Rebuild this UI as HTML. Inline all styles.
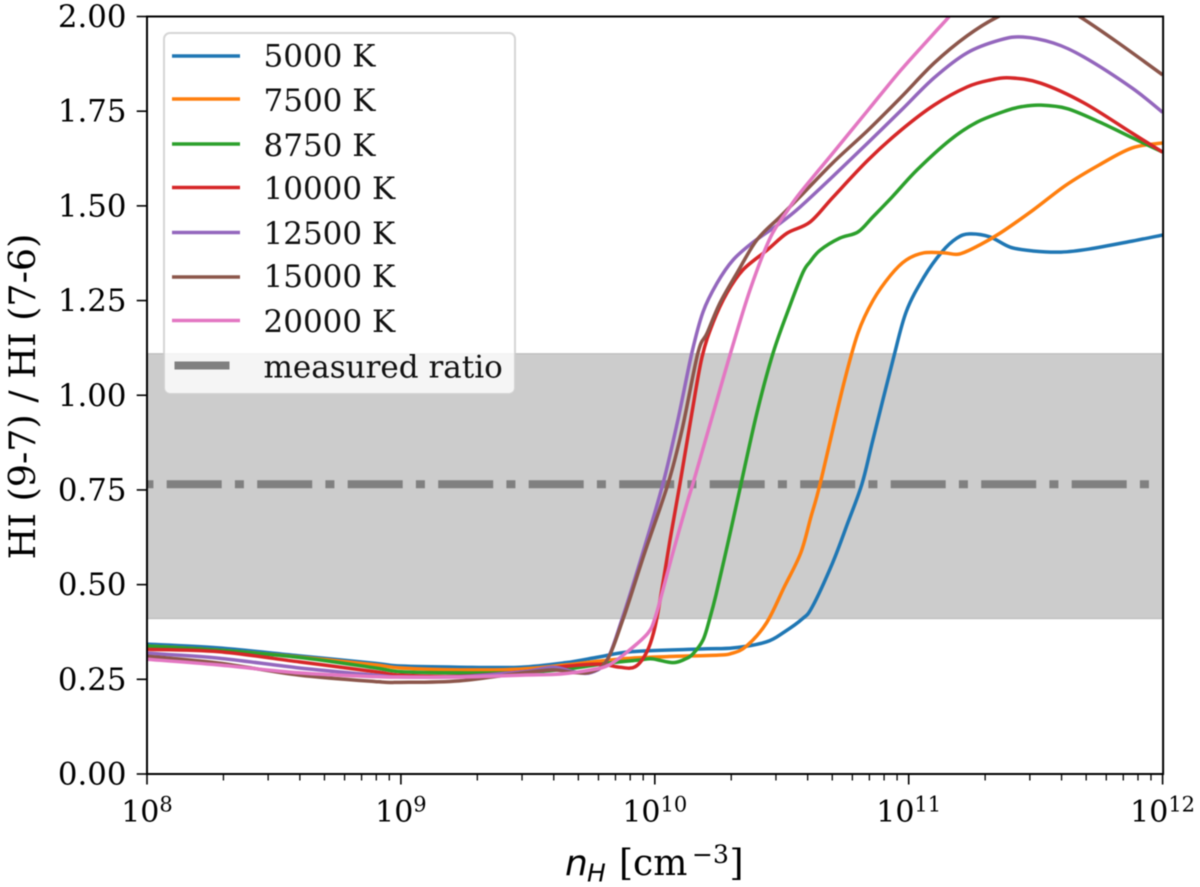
<!DOCTYPE html>
<html lang="en">
<head>
<meta charset="utf-8">
<title>HI line ratio vs density</title>
<style>
html,body{margin:0;padding:0;background:#fff;width:1200px;height:887px;overflow:hidden}
svg{display:block;filter:blur(0.6px)}
text{font-family:"DejaVu Serif","Liberation Serif",serif;fill:#000}
.math{font-family:"DejaVu Sans","Liberation Sans",sans-serif;font-style:italic}
.tick{font-size:30px}
.ytick{font-size:30.8px}
.leg{font-size:31px;fill:#111}
</style>
</head>
<body>
<svg id="chart" width="1200" height="887" viewBox="0 0 1200 887" xmlns="http://www.w3.org/2000/svg">
  <defs><clipPath id="plot-clip"><rect x="147" y="16.5" width="1015.5" height="757.5"/></clipPath></defs>
  <rect x="0" y="0" width="1200" height="887" fill="#fff"/>
  <g id="plot-layer" clip-path="url(#plot-clip)"></g>
  <g id="axis-layer"></g>

  <g>
    <rect x="164" y="33" width="351" height="361" rx="6" ry="6" fill="#fff" fill-opacity="0.8" stroke="#ccc" stroke-opacity="0.8" stroke-width="2"/>
    <g><line x1="172" x2="240" y1="56" y2="56" stroke="#1f77b4" stroke-width="3.5"/><text class="leg" x="263.5" y="66.7">5000 K</text></g>
    <g><line x1="172" x2="240" y1="99" y2="99" stroke="#ff7f0e" stroke-width="3.5"/><text class="leg" x="263.5" y="111">7500 K</text></g>
    <g><line x1="172" x2="240" y1="144" y2="144" stroke="#2ca02c" stroke-width="3.5"/><text class="leg" x="263.5" y="156">8750 K</text></g>
    <g><line x1="172" x2="240" y1="187.5" y2="187.5" stroke="#d62728" stroke-width="3.5"/><text class="leg" x="263.5" y="199">10000 K</text></g>
    <g><line x1="172" x2="240" y1="232.5" y2="232.5" stroke="#9467bd" stroke-width="3.5"/><text class="leg" x="263.5" y="244">12500 K</text></g>
    <g><line x1="172" x2="240" y1="277" y2="277" stroke="#8c564b" stroke-width="3.5"/><text class="leg" x="263.5" y="287">15000 K</text></g>
    <g><line x1="172" x2="240" y1="320.5" y2="320.5" stroke="#e377c2" stroke-width="3.5"/><text class="leg" x="263.5" y="332">20000 K</text></g>
    <g><line x1="174.5" x2="229.5" y1="365.5" y2="365.5" stroke="#808080" stroke-width="8"/><text class="leg" x="263.5" y="377.7">measured ratio</text></g>
  </g>

  <text x="35" y="396.5" font-size="36.5" text-anchor="middle" transform="rotate(-90 35 396.5)">HI (9-7) / HI (7-6)</text>
  <g>
    <text class="math" x="565" y="875" font-size="36">n</text>
    <text class="math" x="587" y="881.5" font-size="25">H</text>
    <text x="619" y="875" font-size="36">[cm</text>
    <text x="692" y="863" font-size="25">−3</text>
    <text x="729.5" y="875" font-size="36">]</text>
  </g>
</svg>

<script>
var logN5000 = [8,8.28,8.6,8.9,9,9.23,9.47,9.65,9.78,9.91,10.18,10.31,10.44,10.51,10.58,10.62,10.70,10.76,10.816,10.859,10.938,10.99,11.06,11.13,11.19,11.24,11.32,11.40,11.49,11.60,11.71,11.88,12];
var ratio5000 = [.343,.333,.312,.292,.285,.282,.282,.294,.309,.323,.33,.333,.349,.375,.409,.441,.557,.663,.766,.882,1.093,1.22,1.312,1.378,1.415,1.426,1.418,1.391,1.381,1.378,1.386,1.407,1.423];

var logN7500 = [8,8.28,8.6,8.9,9,9.23,9.47,9.65,9.78,9.91,10.05,10.25,10.30,10.36,10.44,10.51,10.575,10.615,10.651,10.741,10.80,10.86,10.93,10.99,11.06,11.14,11.2,11.28,11.36,11.49,11.62,11.75,11.88,12];
var ratio7500 = [.338,.327,.309,.288,.28,.275,.277,.288,.298,.306,.31,.314,.318,.337,.399,.494,.584,.679,.766,1.022,1.164,1.251,1.318,1.357,1.376,1.376,1.373,1.397,1.428,1.489,1.555,1.608,1.653,1.666];

var logN8750 = [8,8.28,8.6,8.9,9,9.23,9.47,9.65,9.82,9.94,9.99,10.07,10.118,10.15,10.19,10.217,10.241,10.288,10.336,10.402,10.466,10.533,10.584,10.611,10.651,10.729,10.8,10.859,10.934,11.033,11.163,11.269,11.387,11.446,11.517,11.623,11.753,11.883,12];
var ratio8750 = [.338,.327,.308,.28,.27,.267,.268,.277,.293,.301,.304,.294,.303,.317,.354,.412,.473,.61,.755,.953,1.112,1.238,1.325,1.352,1.383,1.415,1.431,1.471,1.523,1.595,1.674,1.721,1.752,1.762,1.766,1.757,1.721,1.679,1.642];

var logN10000 = [8,8.28,8.6,8.9,9,9.23,9.48,9.63,9.78,9.86,9.922,9.969,10.001,10.032,10.06,10.099,10.146,10.186,10.229,10.284,10.347,10.442,10.521,10.611,10.702,10.84,10.97,11.10,11.23,11.32,11.40,11.52,11.69,11.88,12];
var ratio10000 = [.329,.323,.296,.27,.261,.258,.27,.283,.29,.282,.283,.323,.389,.504,.618,.766,.953,1.101,1.191,1.27,1.331,1.383,1.428,1.457,1.523,1.621,1.7,1.766,1.814,1.832,1.838,1.824,1.772,1.692,1.642];

var logN12500 = [8,8.28,8.6,8.9,9,9.23,9.48,9.6,9.68,9.75,9.812,9.871,9.95,10.032,10.091,10.146,10.19,10.245,10.308,10.387,10.493,10.572,10.70,10.84,10.97,11.10,11.23,11.36,11.45,11.57,11.69,11.88,12];
var ratio12500 = [.319,.306,.28,.261,.256,.257,.27,.282,.27,.268,.301,.409,.578,.766,.935,1.112,1.22,1.296,1.357,1.404,1.454,1.497,1.577,1.667,1.752,1.838,1.904,1.938,1.946,1.93,1.893,1.811,1.747];

var logN15000 = [8,8.28,8.6,8.9,9,9.23,9.48,9.6,9.68,9.75,9.812,9.875,9.961,10.052,10.107,10.17,10.206,10.257,10.324,10.402,10.493,10.57,10.70,10.84,10.97,11.10,11.23,11.35,11.44,11.54,11.62,11.675,11.82,12];
var ratio15000 = [.311,.293,.261,.244,.242,.246,.267,.275,.268,.27,.301,.409,.586,.766,.908,1.112,1.164,1.244,1.323,1.41,1.471,1.523,1.613,1.7,1.787,1.877,1.949,1.999,2.02,2.025,2.017,1.999,1.933,1.846];

var logN20000 = [8,8.28,8.6,8.9,9,9.23,9.48,9.63,9.75,9.82,9.9,9.973,10.001,10.032,10.072,10.127,10.15,10.186,10.229,10.296,10.375,10.454,10.521,10.572,10.702,10.84,10.97,11.10,11.18,11.3];
var ratio20000 = [.303,.288,.267,.257,.256,.256,.261,.264,.275,.288,.327,.372,.412,.486,.586,.716,.766,.85,.95,1.106,1.278,1.415,1.486,1.534,1.64,1.753,1.859,1.956,2.017,2.13];

var bandLimits = [0.41, 1.11];
var measuredRatio = [0.765];

var xTickExponents = [8, 9, 10, 11, 12];
var xMinorMultipliers = [2, 3, 4, 5, 6, 7, 8, 9];
var yTickValues = [0, 0.25, 0.5, 0.75, 1, 1.25, 1.5, 1.75, 2];
var yTickLabels = ['0.00', '0.25', '0.50', '0.75', '1.00', '1.25', '1.50', '1.75', '2.00'];

var NS = 'http://www.w3.org/2000/svg';
var plot = document.getElementById('plot-layer');
var axes = document.getElementById('axis-layer');

function xPos(logN) { return 147 + (logN - 8) * 253.9; }
function yPos(v) { return 774 - v * 378.75; }

function make(tag, parent) {
  var el = document.createElementNS(NS, tag);
  parent.appendChild(el);
  return el;
}

function smoothPath(xs, ys) {
  var pts = xs.map(function (x, i) { return [xPos(x), yPos(ys[i])]; });
  var d = 'M' + pts[0][0].toFixed(2) + ' ' + pts[0][1].toFixed(2);
  for (var i = 0; i < pts.length - 1; i++) {
    var p0 = pts[Math.max(i - 1, 0)], p1 = pts[i], p2 = pts[i + 1], p3 = pts[Math.min(i + 2, pts.length - 1)];
    var c1x = p1[0] + (p2[0] - p0[0]) / 6, c1y = p1[1] + (p2[1] - p0[1]) / 6;
    var c2x = p2[0] - (p3[0] - p1[0]) / 6, c2y = p2[1] - (p3[1] - p1[1]) / 6;
    d += 'C' + c1x.toFixed(2) + ' ' + c1y.toFixed(2) + ' ' + c2x.toFixed(2) + ' ' + c2y.toFixed(2) + ' ' + p2[0].toFixed(2) + ' ' + p2[1].toFixed(2);
  }
  return d;
}

var band = make('rect', plot);


band.setAttribute('x', xPos(8));
band.setAttribute('width', xPos(12) - xPos(8) + 1);
band.setAttribute('y', yPos(bandLimits[1]));
band.setAttribute('height', yPos(bandLimits[0]) - yPos(bandLimits[1]));
band.setAttribute('fill', '#808080');
band.setAttribute('fill-opacity', '0.4');
band.setAttribute('stroke', '#808080');
band.setAttribute('stroke-opacity', '0.4');

var measured = make('line', plot);


measured.setAttribute('x1', xPos(8));
measured.setAttribute('x2', xPos(12));
measured.setAttribute('y1', yPos(measuredRatio[0]));
measured.setAttribute('y2', yPos(measuredRatio[0]));
measured.setAttribute('stroke', '#808080');
measured.setAttribute('stroke-width', '8');
measured.setAttribute('stroke-dasharray', '55 13.2 9 13.3');
measured.setAttribute('stroke-dashoffset', '70.8');

function drawCurve(xs, ys, color) {
  var path = make('path', plot);
  
  
  path.setAttribute('d', smoothPath(xs, ys));
  path.setAttribute('fill', 'none');
  path.setAttribute('stroke', color);
  path.setAttribute('stroke-width', '3.5');
  path.setAttribute('stroke-linejoin', 'round');
}
drawCurve(logN5000, ratio5000, '#1f77b4');
drawCurve(logN7500, ratio7500, '#ff7f0e');
drawCurve(logN8750, ratio8750, '#2ca02c');
drawCurve(logN10000, ratio10000, '#d62728');
drawCurve(logN12500, ratio12500, '#9467bd');
drawCurve(logN15000, ratio15000, '#8c564b');
drawCurve(logN20000, ratio20000, '#e377c2');

function strokeLine(el, x1, y1, x2, y2, w) {
  el.setAttribute('x1', x1);
  el.setAttribute('y1', y1);
  el.setAttribute('x2', x2);
  el.setAttribute('y2', y2);
  el.setAttribute('stroke', '#000');
  el.setAttribute('stroke-width', w);
}

xTickExponents.forEach(function (exp, i) {
  var major = make('line', axes);
  
  
  strokeLine(major, xPos(exp), 774, xPos(exp), 784.5, 1.6);

  var label = make('text', axes);
  
  
  label.setAttribute('class', 'tick');
  label.setAttribute('x', xPos(exp));
  label.setAttribute('y', 822);
  label.setAttribute('text-anchor', 'middle');
  label.textContent = '10';
  var sup = make('tspan', label);
  sup.setAttribute('font-size', '21');
  sup.setAttribute('dy', '-10.5');
  sup.textContent = String(exp);

  if (i < xTickExponents.length - 1) {
    xMinorMultipliers.forEach(function (m) {
      var minor = make('line', axes);
      
      
      var mx = xPos(exp + Math.log10(m));
      strokeLine(minor, mx, 774, mx, 780.5, 1.3);
    });
  }
});

yTickValues.forEach(function (v, i) {
  var tick = make('line', axes);
  
  
  strokeLine(tick, 136.7, yPos(v), 147, yPos(v), 1.6);

  var label = make('text', axes);
  
  
  label.setAttribute('class', 'ytick');
  label.setAttribute('x', 126.5);
  label.setAttribute('y', yPos(v) + 10.5);
  label.setAttribute('text-anchor', 'end');
  label.textContent = yTickLabels[i];
});

var frame = make('rect', axes);


frame.setAttribute('x', xPos(8));
frame.setAttribute('y', yPos(2));
frame.setAttribute('width', xPos(12) - xPos(8) + 0.5);
frame.setAttribute('height', yPos(0) - yPos(2));
frame.setAttribute('fill', 'none');
frame.setAttribute('stroke', '#000');
frame.setAttribute('stroke-width', '2');
</script>
</body>
</html>
